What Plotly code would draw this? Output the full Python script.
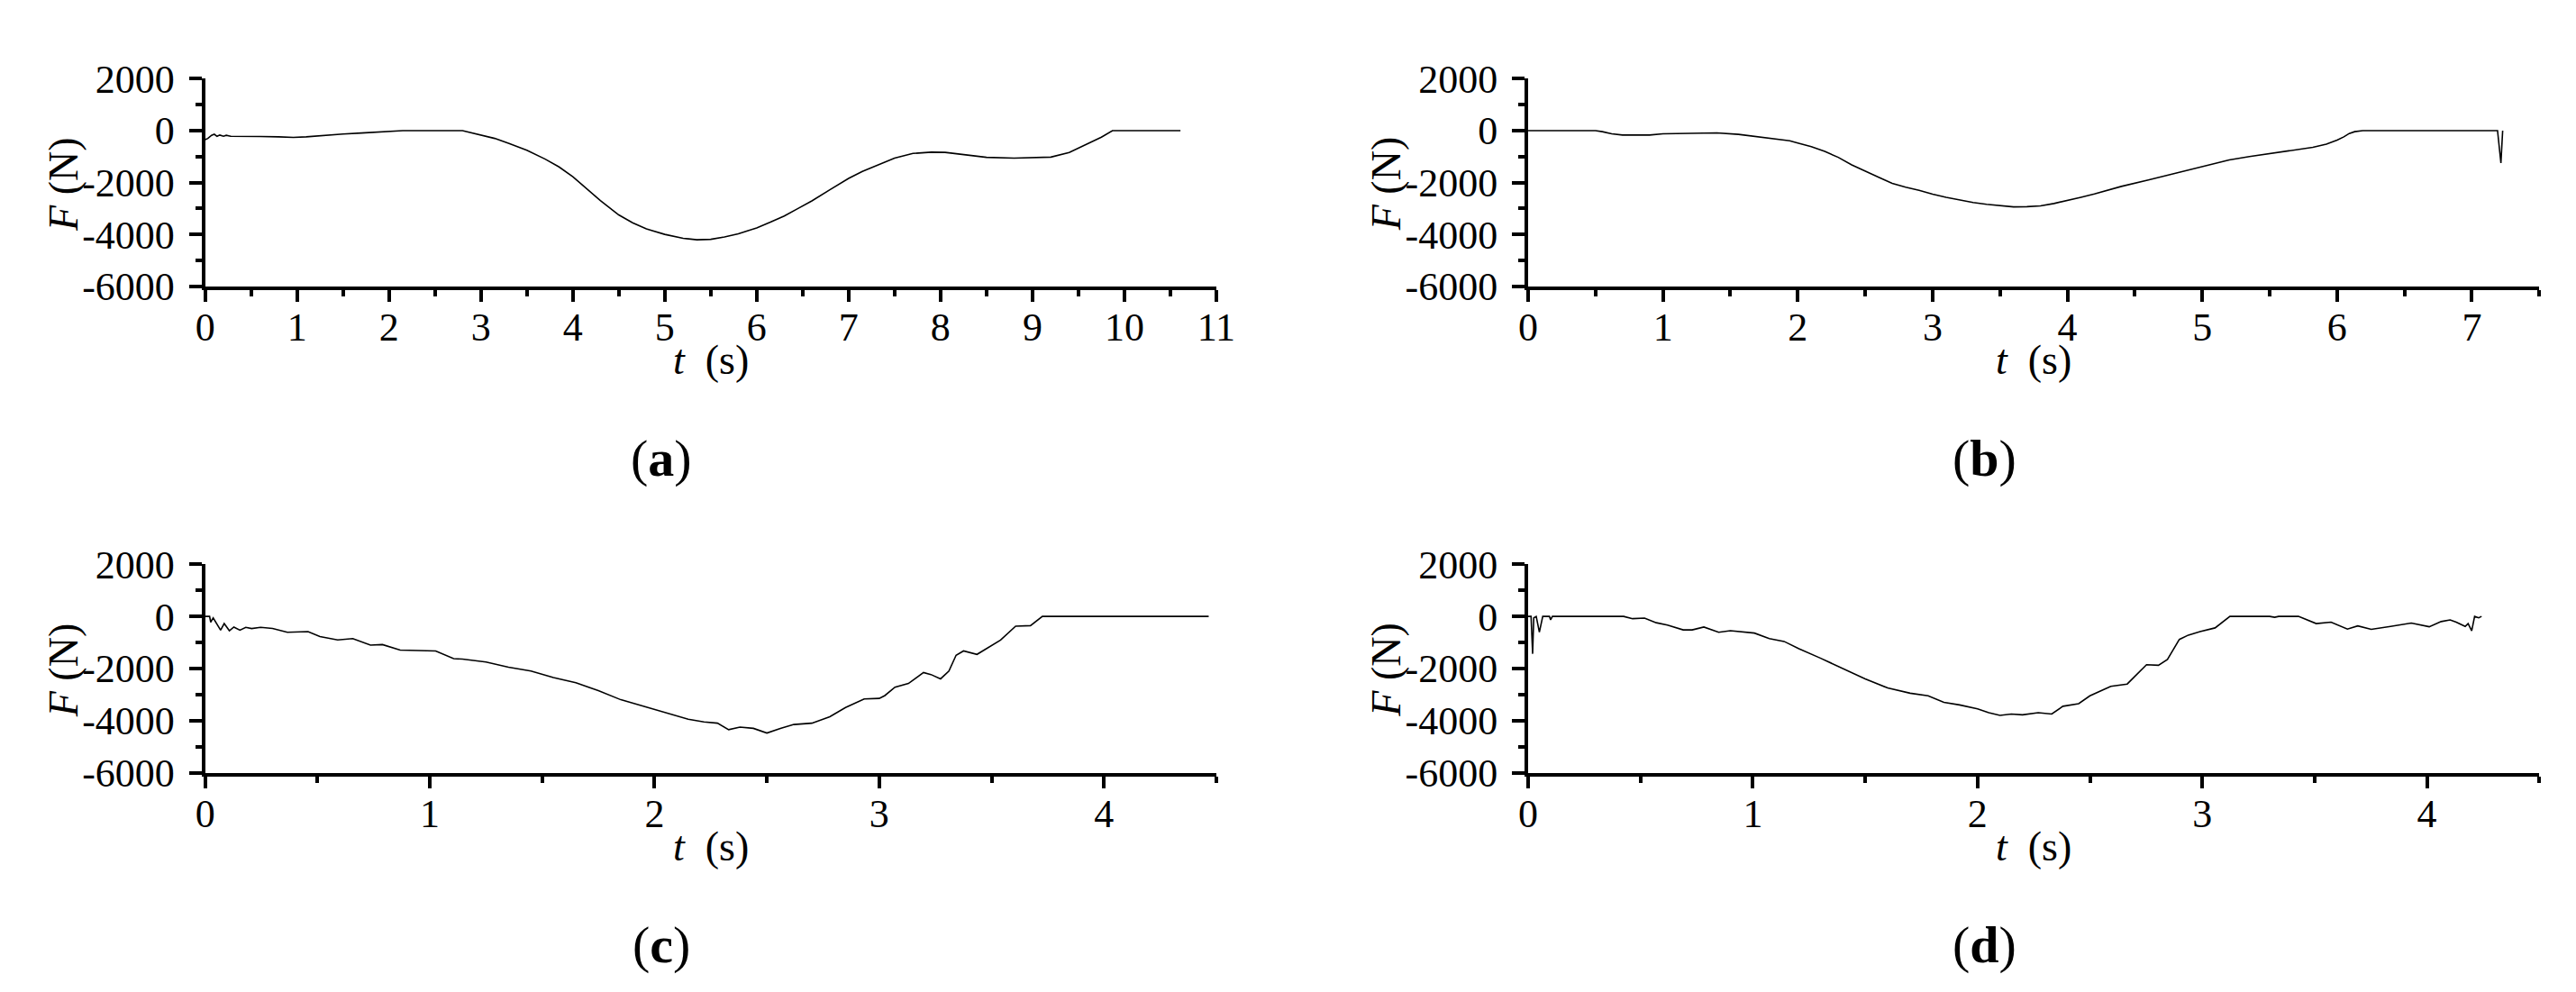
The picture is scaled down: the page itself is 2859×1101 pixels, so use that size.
import plotly.graph_objects as go

# ---------------- data ----------------
T_A = [0.00, 0.03, 0.07, 0.10, 0.13, 0.16, 0.20, 0.23, 0.28, 0.40, 0.60, 0.80, 0.96, 1.10, 1.30,
       1.50, 1.70, 1.90, 2.05, 2.15, 2.80, 3.00, 3.15, 3.30, 3.50, 3.70, 3.85, 4.00, 4.15, 4.30,
       4.50, 4.65, 4.80, 5.00, 5.20, 5.35, 5.50, 5.65, 5.80, 6.00, 6.15, 6.30, 6.45, 6.60, 6.80,
       7.00, 7.15, 7.30, 7.50, 7.70, 7.90, 8.05, 8.20, 8.50, 8.80, 9.05, 9.20, 9.40, 9.60, 9.75,
       9.87, 10.61]
F_A = [-350, -300, -180, -140, -220, -170, -215, -180, -220, -215, -225, -240, -260, -240, -180,
       -130, -90, -50, -15, 0, 0, -160, -300, -490, -760, -1100, -1400, -1780, -2250, -2700,
       -3250, -3550, -3790, -4000, -4150, -4210, -4190, -4100, -3980, -3750, -3530, -3290, -3000, -2710, -2270,
       -1840, -1570, -1340, -1060, -880, -830, -840, -910, -1030, -1060, -1050, -1020, -840, -510, -250,
       0, 0]

T_B = [0.00, 0.50, 0.55, 0.62, 0.70, 0.90, 1.00, 1.15, 1.30, 1.40, 1.56, 1.70, 1.78, 1.94, 2.00,
       2.10, 2.20, 2.30, 2.40, 2.50, 2.60, 2.70, 2.80, 2.90, 3.00, 3.10, 3.20, 3.30, 3.40, 3.50,
       3.60, 3.70, 3.80, 3.90, 4.00, 4.10, 4.20, 4.32, 4.40, 4.60, 4.80, 5.00, 5.20, 5.35, 5.49,
       5.65, 5.82, 5.92, 6.00, 6.05, 6.09, 6.13, 6.19, 7.19, 7.200, 7.210, 7.215, 7.222, 7.228]
F_B = [0, 0, -40, -120, -170, -170, -120, -110, -90, -85, -145, -230, -290, -390, -480,
       -620, -800, -1030, -1320, -1570, -1800, -2030, -2180, -2300, -2450, -2570, -2680, -2770, -2840, -2900,
       -2940, -2930, -2900, -2810, -2700, -2570, -2440, -2250, -2150, -1900, -1640, -1390, -1130, -1000, -890,
       -780, -645, -520, -367, -240, -110, -40, 0, 0, -400, -1000, -1250, -700, 0]

T_C = [0.000, 0.020, 0.025, 0.036, 0.069, 0.085, 0.108, 0.128, 0.155, 0.181, 0.207, 0.247, 0.300, 0.366, 0.458,
       0.511, 0.590, 0.657, 0.736, 0.789, 0.868, 1.026, 1.106, 1.145, 1.250, 1.350, 1.450, 1.550, 1.650, 1.750,
       1.850, 1.950, 2.050, 2.150, 2.220, 2.280, 2.330, 2.380, 2.440, 2.500, 2.560, 2.620, 2.700, 2.780, 2.850,
       2.933, 3.000, 3.025, 3.070, 3.130, 3.197, 3.230, 3.273, 3.310, 3.342, 3.375, 3.435, 3.500, 3.540, 3.607,
       3.673, 3.726, 4.466]
F_C = [0, 0, -220, -55, -530, -276, -550, -410, -530, -420, -465, -420, -465, -610, -585,
       -775, -905, -850, -1105, -1083, -1293, -1326, -1624, -1640, -1750, -1950, -2100, -2350, -2550, -2850,
       -3200, -3450, -3700, -3950, -4050, -4100, -4350, -4250, -4300, -4480, -4300, -4150, -4100, -3850, -3500,
       -3171, -3150, -3040, -2720, -2575, -2155, -2232, -2398, -2100, -1492, -1326, -1459, -1105, -906, -376,
       -354, 0, 0]

T_D = [0.000, 0.013, 0.020, 0.025, 0.036, 0.050, 0.065, 0.095, 0.100, 0.108, 0.425, 0.465, 0.518, 0.570, 0.620,
       0.690, 0.730, 0.782, 0.848, 0.900, 1.007, 1.073, 1.139, 1.205, 1.300, 1.400, 1.500, 1.600, 1.700, 1.780,
       1.850, 1.920, 2.000, 2.050, 2.100, 2.150, 2.200, 2.270, 2.330, 2.380, 2.450, 2.500, 2.593, 2.666, 2.752,
       2.805, 2.845, 2.898, 2.938, 2.990, 3.057, 3.123, 3.300, 3.322, 3.340, 3.428, 3.507, 3.573, 3.646, 3.692,
       3.752, 3.838, 3.930, 4.010, 4.063, 4.103, 4.130, 4.170, 4.183, 4.199, 4.212, 4.230, 4.243]
F_D = [0, 0, -1436, -55, 0, -608, 0, 0, -133, 0, 0, -88, -66, -243, -331,
       -519, -519, -409, -608, -552, -641, -851, -961, -1238, -1600, -2000, -2400, -2750, -2950, -3050,
       -3300, -3400, -3550, -3700, -3800, -3750, -3780, -3700, -3750, -3450, -3350, -3050, -2685, -2597, -1856,
       -1878, -1657, -884, -718, -586, -442, 0, 0, -33, 0, 0, -276, -221, -486, -365,
       -497, -387, -254, -398, -199, -133, -221, -387, -276, -552, 0, -55, 0]

PANEL_T = [T_A, T_B, T_C, T_D]
PANEL_F = [F_A, F_B, F_C, F_D]
PANEL_XMAX = [11, 7.5, 4.5, 4.5]
PANEL_LABELS = ["a", "b", "c", "d"]

Y_TICK_VALS = [-6000, -4000, -2000, 0, 2000]
Y_TICK_TEXT = ["-6000", "-4000", "-2000", "0", "2000"]
X_TITLE = "<i>t</i>\u00a0\u00a0(s)"
Y_TITLE = "<i>F</i>\u00a0(N)"

# ---------------- layout ----------------
W, H = 2859, 1101
FONT = "Liberation Serif"
PLOT_W = 1135
LEFTS = [211, 1696, 211, 1696]
TOPS = [58, 58, 622, 622]
BOTTOMS = [299, 299, 864, 864]

fig = go.Figure()
layout = dict(
    width=W, height=H,
    margin=dict(l=0, r=0, t=0, b=0),
    paper_bgcolor="white", plot_bgcolor="white",
    showlegend=False,
    font=dict(family=FONT, color="black"),
    annotations=[],
)

for i in range(4):
    n = "" if i == 0 else str(i + 1)
    fig.add_trace(go.Scatter(
        x=PANEL_T[i], y=PANEL_F[i], mode="lines",
        line=dict(color="black", width=1.6),
        xaxis="x" + n, yaxis="y" + n, hoverinfo="skip",
    ))
    x0 = LEFTS[i] / W
    x1 = (LEFTS[i] + PLOT_W) / W
    y0 = 1 - BOTTOMS[i] / H
    y1 = 1 - TOPS[i] / H
    layout["xaxis" + n] = dict(
        domain=[x0, x1], anchor="y" + n, range=[0, PANEL_XMAX[i]],
        tick0=0, dtick=1, ticks="outside", ticklen=13, tickwidth=4, tickcolor="black",
        showline=True, linewidth=4, linecolor="black",
        showgrid=False, zeroline=False,
        tickfont=dict(family=FONT, size=44, color="black"),
        minor=dict(dtick=0.5, tick0=0, ticks="outside", ticklen=7, tickwidth=4,
                   tickcolor="black", showgrid=False),
        ticklabelstandoff=-9,
    )
    layout["yaxis" + n] = dict(
        domain=[y0, y1], anchor="x" + n, range=[-6000, 2000],
        tickvals=Y_TICK_VALS, ticktext=Y_TICK_TEXT,
        ticks="outside", ticklen=14, tickwidth=4, tickcolor="black",
        showline=True, linewidth=4, linecolor="black",
        showgrid=False, zeroline=False,
        tickfont=dict(family=FONT, size=44, color="black"),
        minor=dict(dtick=1000, tick0=0, ticks="outside", ticklen=7, tickwidth=4,
                   tickcolor="black", showgrid=False),
        ticklabelstandoff=7,
    )
    cx = (LEFTS[i] + PLOT_W / 2) / W
    # x title
    layout["annotations"].append(dict(
        text=X_TITLE, xref="paper", yref="paper",
        x=cx, y=1 - (BOTTOMS[i] + 86) / H, xanchor="center", yanchor="middle",
        showarrow=False, font=dict(family=FONT, size=46, color="black"),
    ))
    # y title
    layout["annotations"].append(dict(
        text=Y_TITLE, xref="paper", yref="paper", textangle=-90,
        x=(LEFTS[i] - 159) / W, y=1 - ((TOPS[i] + BOTTOMS[i]) / 2 + 2) / H,
        xanchor="center", yanchor="middle",
        showarrow=False, font=dict(family=FONT, size=46, color="black"),
    ))
    # panel label
    layout["annotations"].append(dict(
        text="(<b>" + PANEL_LABELS[i] + "</b>)", xref="paper", yref="paper",
        x=(LEFTS[i] + 512) / W, y=1 - (BOTTOMS[i] + 200) / H,
        xanchor="center", yanchor="middle",
        showarrow=False, font=dict(family=FONT, size=58, color="black"),
    ))

fig.update_layout(**layout)
fig.write_html("out.html")
